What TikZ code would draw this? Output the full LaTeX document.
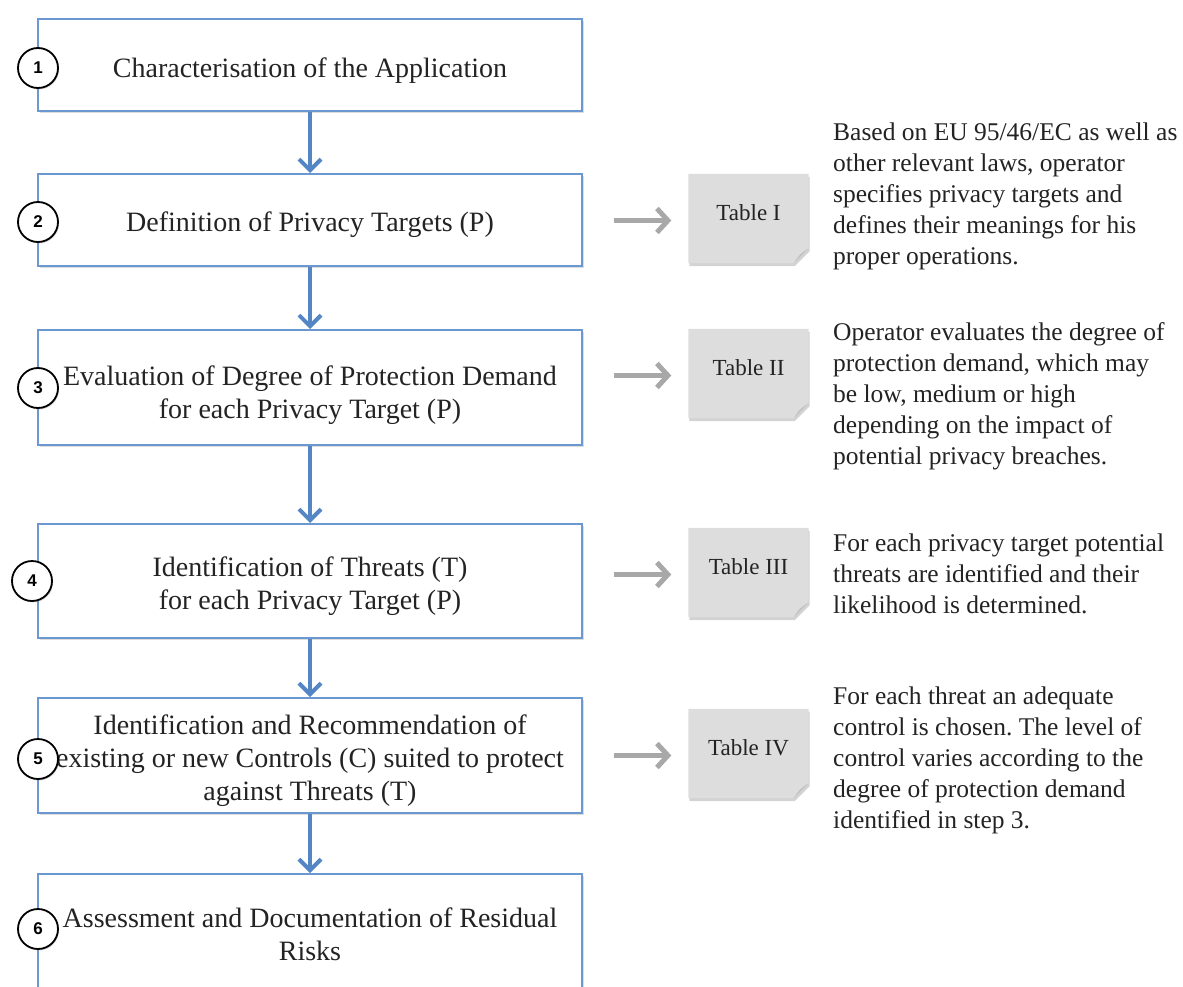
\documentclass[tikz,border=0pt]{standalone}
\usepackage{fontspec}
\setmainfont{Liberation Serif}
\newfontfamily\digitfont{Liberation Sans}
\usetikzlibrary{arrows.meta,shadows,backgrounds}

\definecolor{boxblue}{RGB}{108,152,210}
\definecolor{arrowblue}{RGB}{84,134,198}
\definecolor{tablegray}{RGB}{221,221,221}
\definecolor{foldgray}{RGB}{192,192,192}
\definecolor{pointergray}{RGB}{168,168,168}
\definecolor{inktext}{RGB}{35,35,35}

\frenchspacing
\begin{document}
\begin{tikzpicture}[x=1pt,y=-1pt,
  stepbox/.style={draw=boxblue, line width=2pt, fill=white, minimum width=544pt,
    inner sep=0pt,
    drop shadow={shadow xshift=1.5pt, shadow yshift=-2pt, opacity=0.22, fill=black!60}},
  steptext/.style={inner sep=0pt, align=center, text=inktext, font=\fontsize{28}{33}\selectfont},
  stepnum/.style={circle, draw=black, line width=1.8pt, fill=white, minimum size=40pt,
    inner sep=0pt, text=black, font=\digitfont\bfseries\fontsize{17}{17}\selectfont,
    drop shadow={shadow xshift=1pt, shadow yshift=-1.5pt, opacity=0.3}},
  flow/.style={draw=arrowblue, line width=4pt, -{Straight Barb[length=11pt,width=22pt]}},
  tablecard/.style={minimum width=120pt, minimum height=89pt, inner sep=0pt, text=inktext,
    font=\fontsize{23}{25}\selectfont, text height=15pt, text depth=11pt},
  cardfill/.style={fill=tablegray,
    drop shadow={shadow xshift=1pt, shadow yshift=-3pt, opacity=0.35, fill=black!50}},
  pointer/.style={draw=pointergray, line width=5pt, -{Straight Barb[length=11pt,width=24pt]}},
  note/.style={anchor=west, inner sep=0pt, align=left, text=inktext,
    font=\fontsize{25.5}{31}\selectfont}
]
\useasboundingbox (0,0) rectangle (1183,987);

% process step frames
\node[stepbox, minimum height=92pt]  (b1) at (310,65)    {};
\node[stepbox, minimum height=92pt]  (b2) at (310,220)   {};
\node[stepbox, minimum height=115pt] (b3) at (310,387.5) {};
\node[stepbox, minimum height=114pt] (b4) at (310,581)   {};
\node[stepbox, minimum height=115pt] (b5) at (310,755.5) {};
\node[stepbox, minimum height=115pt] (b6) at (310,931.5) {};

% process step captions
\node[steptext] (s1) at ([yshift=-6pt]b1.center) {Characterisation of the Application};
\node[steptext] (s2) at ([yshift=-5pt]b2.center) {Definition of Privacy Targets (P)};
\node[steptext] (s3) at ([yshift=-8pt]b3.center) {Evaluation of Degree of Protection Demand\\for each Privacy Target (P)};
\node[steptext] (s4) at ([yshift=-5pt]b4.center) {Identification of Threats (T)\\for each Privacy Target (P)};
\node[steptext] (s5) at ([yshift=-5pt]b5.center) {Identification and Recommendation of\\existing or new Controls (C) suited to protect\\against Threats (T)};
\node[steptext] (s6) at ([yshift=-3pt]b6.center) {Assessment and Documentation of Residual\\Risks};

% flow between steps
\draw[flow] (b1.south) -- (b2.north);
\draw[flow] (b2.south) -- (b3.north);
\draw[flow] (b3.south) -- (b4.north);
\draw[flow] (b4.south) -- (b5.north);
\draw[flow] (b5.south) -- (b6.north);

% step numbers
\node[stepnum] (c1) at (38,68)  {1};
\node[stepnum] (c2) at (38,222) {2};
\node[stepnum] (c3) at (38,388) {3};
\node[stepnum] (c4) at (32,581) {4};
\node[stepnum] (c5) at (38,759) {5};
\node[stepnum] (c6) at (38,929) {6};

% reference tables
\node[tablecard] (tI)   at (748.5,218.5) {Table I};
\node[tablecard] (tII)  at (748.5,373.5) {Table II};
\node[tablecard] (tIII) at (748.5,572.5) {Table III};
\node[tablecard] (tIV)  at (748.5,753.5) {Table IV};

\begin{pgfonlayer}{background}
\foreach \t in {tI,tII,tIII,tIV}{
  \fill[cardfill] (\t.north west) -- (\t.north east) -- ([yshift=15pt]\t.south east)
     -- ([xshift=-15pt]\t.south east) -- (\t.south west) -- cycle;
  \fill[foldgray] ([yshift=15pt]\t.south east)
     .. controls ([xshift=-9pt,yshift=9pt]\t.south east) .. ([xshift=-15pt]\t.south east) -- cycle;
}
\end{pgfonlayer}

% pointers to tables
\draw[pointer] ([xshift=-74pt,yshift=-2pt]tI.west)   -- ([xshift=-17pt,yshift=-2pt]tI.west);
\draw[pointer] ([xshift=-74pt,yshift=-2pt]tII.west)  -- ([xshift=-17pt,yshift=-2pt]tII.west);
\draw[pointer] ([xshift=-74pt,yshift=-2pt]tIII.west) -- ([xshift=-17pt,yshift=-2pt]tIII.west);
\draw[pointer] ([xshift=-74pt,yshift=-2pt]tIV.west)  -- ([xshift=-17pt,yshift=-2pt]tIV.west);

% explanations
\node[note] (nI) at (833,196) {Based on EU 95/46/EC as well as\\other relevant laws, operator\\specifies privacy targets and\\defines their meanings for his\\proper operations.};
\node[note] (nII) at (833,396) {Operator evaluates the degree of\\protection demand, which may\\be low, medium or high\\depending on the impact of\\potential privacy breaches.};
\node[note] (nIII) at (833,574) {For each privacy target potential\\threats are identified and their\\likelihood is determined.};
\node[note] (nIV) at (833,760) {For each threat an adequate\\control is chosen. The level of\\control varies according to the\\degree of protection demand\\identified in step 3.};
\end{tikzpicture}
\end{document}
